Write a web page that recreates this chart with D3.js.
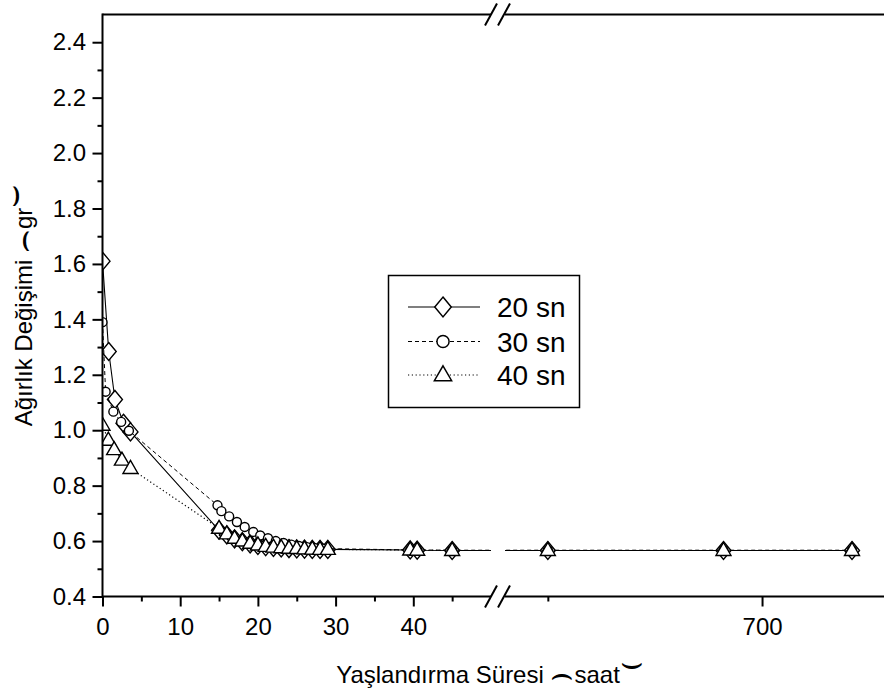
<!DOCTYPE html>
<html>
<head>
<meta charset="utf-8">
<script src="https://cdn.jsdelivr.net/npm/d3@7"></script>
<style>
body { margin: 0; background: #fff; }
svg { display: block; }
</style>
</head>
<body>
<div id="chart"></div>
<script>
// values (time in hours, weight change in gr)
var time20 = [0, 0.8, 1.6, 2.7, 3.6, 15, 16, 17, 18, 19, 20, 21, 22, 23, 24, 25, 26, 27, 28, 29, 39.6, 40.5, 45, 650, 691, 721];
var weight20 = [1.61, 1.284, 1.111, 1.025, 0.994, 0.639, 0.622, 0.608, 0.598, 0.59, 0.584, 0.58, 0.577, 0.575, 0.573, 0.572, 0.571, 0.57, 0.57, 0.57, 0.568, 0.567, 0.566, 0.566, 0.566, 0.566];

var time30 = [0, 0.4, 1.4, 2.4, 3.4, 14.8, 15.3, 16.3, 17.3, 18.3, 19.4, 20.3, 21.3, 22.3, 23.3, 24.3, 25.3, 26.3, 27.3, 28.3, 39.6, 40.5, 45, 650, 691, 721];
var weight30 = [1.39, 1.139, 1.067, 1.03, 0.998, 0.729, 0.708, 0.689, 0.669, 0.651, 0.633, 0.62, 0.61, 0.6, 0.593, 0.587, 0.582, 0.578, 0.575, 0.573, 0.568, 0.568, 0.567, 0.567, 0.567, 0.567];

var time40 = [0, 0.75, 1.5, 2.5, 3.6, 15, 16, 17, 18, 19, 20, 21, 22, 23, 24, 25, 26, 27, 28, 29, 39.6, 40.5, 45, 650, 691, 721];
var weight40 = [1.018, 0.964, 0.93, 0.892, 0.862, 0.646, 0.626, 0.61, 0.6, 0.592, 0.586, 0.581, 0.578, 0.576, 0.574, 0.573, 0.572, 0.571, 0.57, 0.57, 0.568, 0.567, 0.566, 0.566, 0.566, 0.566];

var seriesNames = ["20 sn", "30 sn", "40 sn"];
var yTicks = [0.4, 0.6, 0.8, 1.0, 1.2, 1.4, 1.6, 1.8, 2.0, 2.2, 2.4];
var yMinorTicks = [0.5, 0.7, 0.9, 1.1, 1.3, 1.5, 1.7, 1.9, 2.1, 2.3];
var xTicksLeft = [0, 10, 20, 30, 40];
var xMinorLeft = [5, 15, 25, 35, 45];
var xTicksRight = [700];
var xMinorRight = [650];

var width = 884, height = 695;
var fontFam = '"Liberation Sans", Arial, sans-serif';

var svg = d3.select("#chart").append("svg")
    .attr("width", width)
    .attr("height", height);

svg.append("rect").attr("width", width).attr("height", height).attr("fill", "#fff");

var plotTop = 14.5, plotBottom = 596.5, plotLeft = 102.5;
var y = d3.scaleLinear().domain([0.4, 2.5]).range([plotBottom, plotTop]);
var xL = d3.scaleLinear().domain([0, 50]).range([plotLeft, 491]);
var xR = d3.scaleLinear().domain([640, 728]).range([505, 882]);
function xPos(v) { return v <= 50 ? xL(v) : xR(v); }

// clip: the two segments of the broken axis
var clip = svg.append("defs").append("clipPath").attr("id", "segs");
clip.append("rect").attr("x", plotLeft).attr("y", 0).attr("width", 491 - plotLeft).attr("height", plotBottom);
clip.append("rect").attr("x", 505).attr("y", 0).attr("width", 884 - 505).attr("height", plotBottom);

// marker shapes
function diamond(s) { return "M0," + (-9 * s) + "L" + (7.5 * s) + ",0L0," + (9 * s) + "L" + (-7.5 * s) + ",0Z"; }
function triangle(s) { return "M0," + (-8 * s) + "L" + (7.5 * s) + "," + (5 * s) + "L" + (-7.5 * s) + "," + (5 * s) + "Z"; }
function circle(s) { var r = 4.5 * s; return "M" + r + ",0A" + r + "," + r + " 0 1,1 " + (-r) + ",0A" + r + "," + r + " 0 1,1 " + r + ",0Z"; }

var series = [
    { t: time20, w: weight20, dash: null, lw: 1.1, shape: diamond, legScale: 1.1 },
    { t: time30, w: weight30, dash: "4,3", lw: 1, shape: circle, legScale: 1.35 },
    { t: time40, w: weight40, dash: "1.2,2.6", lw: 1.2, shape: triangle, legScale: 1.15 }
];

var plot = svg.append("g").attr("clip-path", "url(#segs)");
var line = d3.line().x(function(d) { return xPos(d[0]); }).y(function(d) { return y(d[1]); });

series.forEach(function(s) {
    var pts = d3.zip(s.t, s.w);
    plot.append("path")
        .attr("d", line(pts))
        .attr("fill", "none")
        .attr("stroke", "#000")
        .attr("stroke-width", s.lw)
        .attr("stroke-dasharray", s.dash);
    plot.selectAll(null).data(pts).enter().append("path")
        .attr("transform", function(d) { return "translate(" + xPos(d[0]) + "," + y(d[1]) + ")"; })
        .attr("d", s.shape(1))
        .attr("fill", "#fff")
        .attr("stroke", "#000")
        .attr("stroke-width", 1.4);
});

// axes
function styleAxis(g) {
    g.select(".domain").remove();
    g.selectAll(".tick line").attr("stroke", "#000").attr("stroke-width", 2);
    g.selectAll("text").attr("fill", "#000").attr("font-family", fontFam).attr("font-size", 24);
}

svg.append("g").attr("transform", "translate(" + plotLeft + ",0)")
    .call(d3.axisLeft(y).tickValues(yTicks).tickSize(10).tickPadding(6.5).tickFormat(d3.format(".1f")))
    .call(styleAxis);
svg.append("g").attr("transform", "translate(" + plotLeft + ",0)")
    .call(d3.axisLeft(y).tickValues(yMinorTicks).tickSize(5).tickFormat(""))
    .call(styleAxis);

svg.append("g").attr("transform", "translate(0," + plotBottom + ")")
    .call(d3.axisBottom(xL).tickValues(xTicksLeft).tickSize(10).tickPadding(11).tickFormat(d3.format("d")))
    .call(styleAxis);
svg.append("g").attr("transform", "translate(0," + plotBottom + ")")
    .call(d3.axisBottom(xL).tickValues(xMinorLeft).tickSize(5).tickFormat(""))
    .call(styleAxis);
svg.append("g").attr("transform", "translate(0," + plotBottom + ")")
    .call(d3.axisBottom(xR).tickValues(xTicksRight).tickSize(10).tickPadding(11).tickFormat(d3.format("d")))
    .call(styleAxis);
svg.append("g").attr("transform", "translate(0," + plotBottom + ")")
    .call(d3.axisBottom(xR).tickValues(xMinorRight).tickSize(5).tickFormat(""))
    .call(styleAxis);

// axis lines with the break
var axisLines = [
    [plotLeft, plotTop - 1, plotLeft, plotBottom + 1],
    [plotLeft, plotBottom, 491, plotBottom], [505, plotBottom, 884, plotBottom],
    [plotLeft, plotTop, 491, plotTop], [505, plotTop, 884, plotTop]
];
svg.selectAll(null).data(axisLines).enter().append("line")
    .attr("x1", function(d) { return d[0]; }).attr("y1", function(d) { return d[1]; })
    .attr("x2", function(d) { return d[2]; }).attr("y2", function(d) { return d[3]; })
    .attr("stroke", "#000").attr("stroke-width", 2);

// break marks
[plotTop, plotBottom].forEach(function(yy) {
    [491, 504].forEach(function(xx) {
        svg.append("line")
            .attr("x1", xx - 6).attr("y1", yy + 11)
            .attr("x2", xx + 6).attr("y2", yy - 11)
            .attr("stroke", "#000").attr("stroke-width", 2);
    });
});

// axis titles
var xt = svg.append("text")
    .attr("x", 490).attr("y", 683)
    .attr("text-anchor", "middle")
    .attr("font-family", fontFam).attr("font-size", 24).attr("fill", "#000");
xt.append("tspan").text("Yaşlandırma Süresi ");
xt.append("tspan").attr("font-family", "DejaVu Sans").attr("font-size", 36).attr("dy", 3).text("⌢");
xt.append("tspan").attr("dy", -3).text("saat");
xt.append("tspan").attr("font-family", "DejaVu Sans").attr("font-size", 36).attr("dy", -9).text("⌣");

var yt = svg.append("text")
    .attr("transform", "translate(32,305) rotate(-90)")
    .attr("text-anchor", "middle")
    .attr("font-family", fontFam).attr("font-size", 24).attr("fill", "#000");
yt.append("tspan").text("Ağırlık Değişimi ");
yt.append("tspan").attr("font-family", "DejaVu Sans").attr("font-size", 36).attr("dy", 3).text("⌢");
yt.append("tspan").attr("dy", -3).text("gr");
yt.append("tspan").attr("font-family", "DejaVu Sans").attr("font-size", 36).attr("dy", -8).text("⌣");

// legend
var leg = svg.append("g");
leg.append("rect")
    .attr("x", 388.5).attr("y", 275.5).attr("width", 191).attr("height", 132)
    .attr("fill", "#fff").attr("stroke", "#000").attr("stroke-width", 1.5);
var rowY = [307, 341.5, 375];
series.forEach(function(s, i) {
    leg.append("line")
        .attr("x1", 408).attr("x2", 480).attr("y1", rowY[i]).attr("y2", rowY[i])
        .attr("stroke", "#000").attr("stroke-width", s.lw)
        .attr("stroke-dasharray", s.dash);
    leg.append("path")
        .attr("transform", "translate(443," + rowY[i] + ")")
        .attr("d", s.shape(s.legScale))
        .attr("fill", "#fff").attr("stroke", "#000").attr("stroke-width", 1.5);
    leg.append("text")
        .attr("x", 497).attr("y", rowY[i] + 10)
        .attr("font-family", fontFam).attr("font-size", 28).attr("fill", "#000")
        .text(seriesNames[i]);
});
</script>
</body>
</html>
